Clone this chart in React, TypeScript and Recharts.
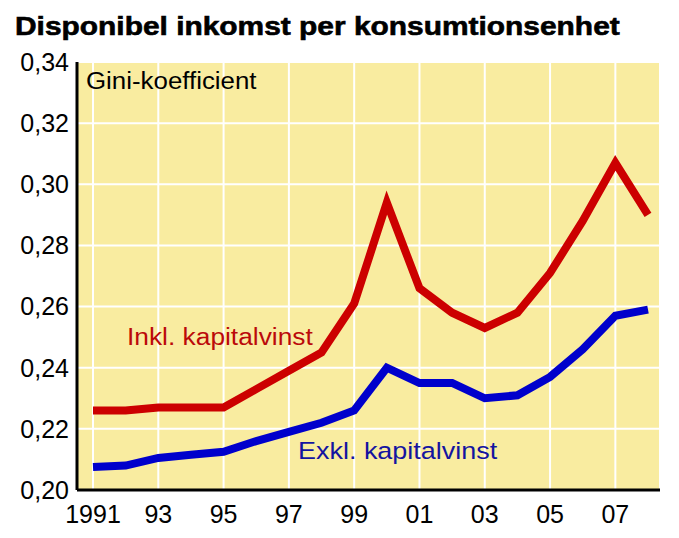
import { LineChart, Line, XAxis, YAxis, CartesianGrid } from 'recharts'

const YEARS = [1991, 1992, 1993, 1994, 1995, 1996, 1997, 1998, 1999, 2000, 2001, 2002, 2003, 2004, 2005, 2006, 2007, 2008]
const INKL = [0.226, 0.226, 0.227, 0.227, 0.227, 0.233, 0.239, 0.245, 0.261, 0.294, 0.266, 0.258, 0.253, 0.258, 0.271, 0.288, 0.307, 0.29]
const EXKL = [0.2075, 0.208, 0.2105, 0.2115, 0.2125, 0.216, 0.219, 0.222, 0.226, 0.24, 0.235, 0.235, 0.23, 0.231, 0.237, 0.246, 0.257, 0.259]
const X_TICKS = [1991, 1993, 1995, 1997, 1999, 2001, 2003, 2005, 2007]
const Y_TICKS = [0.2, 0.22, 0.24, 0.26, 0.28, 0.3, 0.32, 0.34]

const TITLE = 'Disponibel inkomst per konsumtionsenhet'
const UNIT_LABEL = 'Gini-koefficient'
const INKL_LABEL = 'Inkl. kapitalvinst'
const EXKL_LABEL = 'Exkl. kapitalvinst'

const data = YEARS.map((year, i) => ({ year, inkl: INKL[i], exkl: EXKL[i] }))

const FONT = '"Liberation Sans", Arial, Helvetica, sans-serif'
const BG = '#f9eca0'

const formatYear = (y: number) => (y === 1991 ? '1991' : String(y).slice(2))
const formatValue = (v: number) => v.toFixed(2).replace('.', ',')

// the original lettering is a bit wider than Arial, so stretch it slightly
const labelStyle = (left: number, top: number, size: number, color: string, stretch: number) => ({
  position: 'absolute' as const,
  left,
  top,
  fontSize: size,
  lineHeight: 1,
  color,
  whiteSpace: 'nowrap' as const,
  transform: `scaleX(${stretch})`,
  transformOrigin: 'left top',
})

export default function App() {
  return (
    <div style={{ position: 'relative', width: 679, height: 538, background: '#fff', fontFamily: FONT }}>
      <style>{`body{margin:0}`}</style>
      <div style={{ ...labelStyle(15, 13, 26, '#000', 1.15), fontWeight: 'bold', WebkitTextStroke: '0.6px #000' }}>
        {TITLE}
      </div>
      <LineChart width={679} height={538} data={data} margin={{ top: 62, right: 19, left: 0, bottom: 0 }}>
        <CartesianGrid stroke="#ffffff" strokeWidth={2} fill={BG} />
        <XAxis
          dataKey="year"
          type="number"
          domain={[1991, 2008]}
          ticks={X_TICKS}
          tickFormatter={formatYear}
          padding={{ left: 16, right: 12 }}
          height={48}
          axisLine={{ stroke: '#000', strokeWidth: 3 }}
          tickLine={false}
          tickMargin={9}
          tick={{ fill: '#000', fontSize: 25, fontFamily: FONT }}
        />
        <XAxis
          xAxisId="top"
          orientation="top"
          dataKey="year"
          type="number"
          domain={[1991, 2008]}
          height={0}
          tick={false}
          tickLine={false}
          axisLine={{ stroke: '#000', strokeWidth: 3 }}
        />
        <YAxis
          type="number"
          domain={[0.2, 0.34]}
          ticks={Y_TICKS}
          tickFormatter={formatValue}
          width={77}
          axisLine={{ stroke: '#000', strokeWidth: 3 }}
          tickLine={false}
          tick={{ fill: '#000', fontSize: 25, fontFamily: FONT }}
        />
        <YAxis
          yAxisId="right"
          orientation="right"
          type="number"
          domain={[0.2, 0.34]}
          width={0}
          tick={false}
          tickLine={false}
          axisLine={{ stroke: '#000', strokeWidth: 3 }}
        />
        <Line
          type="linear"
          dataKey="inkl"
          stroke="#cc0000"
          strokeWidth={8}
          dot={false}
          isAnimationActive={false}
        />
        <Line
          type="linear"
          dataKey="exkl"
          stroke="#0000cc"
          strokeWidth={8}
          dot={false}
          isAnimationActive={false}
        />
      </LineChart>
      <div style={labelStyle(86, 70, 23.5, '#000', 1.1)}>{UNIT_LABEL}</div>
      <div style={labelStyle(127, 326, 23.5, '#bb0a0a', 1.12)}>{INKL_LABEL}</div>
      <div style={labelStyle(298, 439, 24.5, '#1414a0', 1.1)}>{EXKL_LABEL}</div>
    </div>
  )
}
